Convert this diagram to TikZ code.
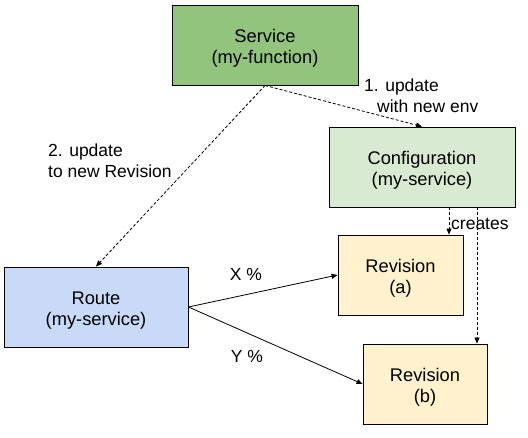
\documentclass[tikz,border=0pt]{standalone}
\usepackage{fontspec}
\setmainfont{Liberation Sans}
\usetikzlibrary{arrows.meta,calc}
\definecolor{svcgreen}{HTML}{93C47D}
\definecolor{cfggreen}{HTML}{D9EAD3}
\definecolor{routeblue}{HTML}{C9DAF8}
\definecolor{revyellow}{HTML}{FFF2CC}
\newcommand\boxtext[2]{\raisebox{-3.5pt}[\height][\depth]{\begin{tabular}{@{}c@{}}#1\\#2\end{tabular}}}
\tikzset{
  box/.style={draw=black, line width=0.9pt, inner sep=0pt,
    font=\fontsize{18.3}{21}\selectfont},
  lbl/.style={inner sep=0pt, font=\fontsize{17.5}{21}\selectfont},
  conn/.style={line width=0.8pt, -{Triangle[length=6pt,width=5pt]}},
  dconn/.style={conn, dash pattern=on 3pt off 2pt},
}
\begin{document}
\begin{tikzpicture}[x=1pt,y=-1pt]
\useasboundingbox[fill=white] (0,0) rectangle (528,437);
\node[box, fill=svcgreen, minimum width=186pt, minimum height=80pt] (svc) at (265,45) {\boxtext{Service}{(my-function)}};
\node[box, fill=cfggreen, minimum width=186pt, minimum height=80pt] (cfg) at (422,167) {\boxtext{Configuration}{(my-service)}};
\node[box, fill=routeblue, minimum width=184pt, minimum height=80pt] (route) at (96,307) {\boxtext{Route}{(my-service)}};
\node[box, fill=revyellow, minimum width=125pt, minimum height=80pt] (reva) at (400.5,275) {\boxtext{Revision}{(a)}};
\node[box, fill=revyellow, minimum width=124pt, minimum height=80pt] (revb) at (425,384) {\boxtext{Revision}{(b)}};
\coordinate (ca) at (449,0);
\coordinate (cb) at (477,0);
\draw[dconn] (svc.south) -- (cfg.north);
\draw[dconn] (svc.south) -- (route.north);
\draw[dconn] (cfg.south -| ca) -- (reva.north -| ca);
\draw[dconn] (cfg.south -| cb) -- (revb.north -| cb);
\draw[conn] (route.east) -- (reva.west);
\draw[conn] (route.east) -- (revb.west);
\node[lbl, anchor=base west] (l1a) at (364,91) {1. update};
\node[lbl, anchor=base west] (l1b) at (377,112) {with new env};
\node[lbl, anchor=base west] (l2a) at (48,156) {2. update};
\node[lbl, anchor=base west] (l2b) at (48,177) {to new Revision};
\node[lbl, anchor=base west] (lc) at (451,229) {creates};
\node[lbl] (lx) at (246,274) {X \%};
\node[lbl] (ly) at (247,356) {Y \%};
\end{tikzpicture}
\end{document}
